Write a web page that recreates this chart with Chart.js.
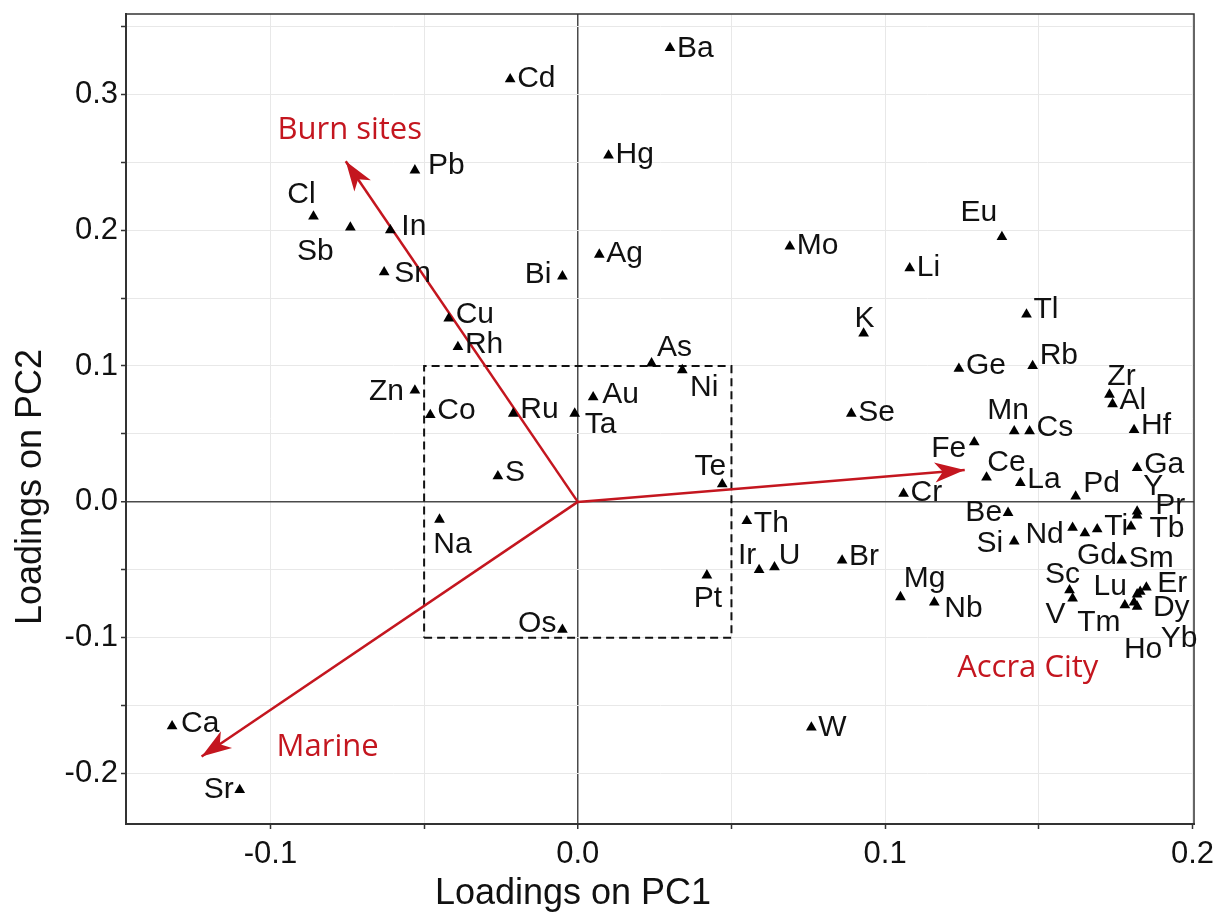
<!DOCTYPE html>
<html>
<head>
<meta charset="utf-8">
<script src="https://cdn.jsdelivr.net/npm/chart.js@4.4.0/dist/chart.umd.min.js"></script>
<style>
  html, body { margin: 0; padding: 0; background: #fff; }
</style>
</head>
<body>
<canvas id="Chart" width="1213" height="914"></canvas>
<script>
// element loadings
const elements = ['Ba','Cd','Hg','Pb','Cl','Sb','In','Sn','Ag','Bi','Mo','Li','Eu','Tl','K','Cu','Rh','Ge','Rb','Zr','Al','Hf','Mn','Cs','Fe','Ce','La','Ga','Pd','Cr','Se','As','Ni','Au','Ta','Ru','Co','Zn','S','Te','Na','Pt','Os','Th','Ir','U','Br','Mg','Nb','W','Ca','Sr','Be','Si','Nd','Gd','Ti','Y','Pr','Tb','Sm','Sc','V','Er','Dy','Lu','Tm','Ho','Yb'];
const pc1 = [0.030,-0.022,0.010,-0.053,-0.086,-0.074,-0.061,-0.063,0.007,-0.005,0.069,0.108,0.138,0.146,0.093,-0.042,-0.039,0.124,0.148,0.173,0.174,0.181,0.142,0.147,0.129,0.133,0.144,0.182,0.162,0.106,0.089,0.024,0.034,0.005,-0.001,-0.021,-0.048,-0.053,-0.026,0.047,-0.045,0.042,-0.005,0.055,0.059,0.064,0.086,0.105,0.116,0.076,-0.132,-0.110,0.140,0.142,0.161,0.165,0.169,0.182,0.182,0.180,0.177,0.160,0.161,0.185,0.183,0.182,0.178,0.181,0.182];
const pc2 = [0.334,0.311,0.255,0.244,0.210,0.202,0.200,0.169,0.182,0.166,0.188,0.172,0.195,0.138,0.124,0.135,0.114,0.098,0.100,0.079,0.072,0.053,0.052,0.052,0.044,0.018,0.014,0.025,0.004,0.006,0.065,0.102,0.097,0.077,0.065,0.065,0.064,0.082,0.019,0.013,-0.013,-0.054,-0.094,-0.014,-0.050,-0.048,-0.043,-0.070,-0.074,-0.166,-0.165,-0.212,-0.008,-0.029,-0.019,-0.023,-0.020,-0.007,-0.010,-0.018,-0.043,-0.065,-0.071,-0.063,-0.066,-0.068,-0.076,-0.074,-0.077];

// source vectors
const arrowNames = ['Burn sites', 'Accra City', 'Marine'];
const arrowPC1 = [-0.0755, 0.1259, -0.1224];
const arrowPC2 = [0.2507, 0.0235, -0.1873];

// dashed box
const boxPC1 = [-0.05, 0.05];
const boxPC2 = [-0.1, 0.1];

const xTickLabels = ['-0.1', '0.0', '0.1', '0.2'];
const yTickLabels = ['-0.2', '-0.1', '0.0', '0.1', '0.2', '0.3'];

// where each text goes (px): ['r'|'l', dy, gap] beside the mark, or [dx, dy] for the text centre
const labelPlace = {
  Ba:['r',-2], Cd:['r',-3], Hg:['r',-3], Pb:['r',-7,13], In:['r',-6,11], Sn:['r',-1,10], Ag:['r',-3], Mo:['r',-3], Li:['r',-3],
  Tl:['r',-7], Cu:['r',-6], Rh:['r',-5], Ge:['r',-5], Rb:['r',-13], Al:['r',-6], Hf:['r',-7], Cs:['r',-6], La:['r',-6],
  Ga:['r',-6], Cr:['r',-3], Se:['r',-3], Au:['r',-5,9], Ru:['r',-6], Co:['r',-7], S:['r',-6], Th:['r',0], Br:['r',-6],
  Nb:['r',4,10], W:['r',-2], Ca:['r',-5,9], Ti:['r',-5], Sm:['r',-4],
  Bi:['l',-4,11], Fe:['l',4], Be:['l',-3,6], Si:['l',0,11], Zn:['l',-1,11], Os:['l',-8,6], Sr:['l',-3,6],
  Cl:[-12,-24], Sb:[-35,22], Eu:[-23,-27], K:[1,-17], Zr:[12,-20], Mn:[-6,-23], Ce:[20,-17], Pd:[26,-15],
  Y:[16,-27], Pr:[33,-12], Tb:[36,0], Nd:[-28,5], Gd:[12,20], Sc:[-7,-18], V:[-17,14], Lu:[-27,-10],
  Tm:[-26,15], Er:[26,-6], Dy:[31,14], Ho:[9,45], Yb:[42,30], Mg:[24,-21], As:[23,-18], Ni:[22,15],
  Ta:[26,9], Te:[-12,-20], Ir:[-12,-17], U:[15,-14], Pt:[1,21], Na:[13,23]
};
const arrowLabelAt = { 'Burn sites': [-0.0742, 0.2752], 'Accra City': [0.1464, -0.1207], 'Marine': [-0.0814, -0.1788] };

const red = '#c4161f';
const ink = '#111';
const sans = "'Liberation Sans', Arial, sans-serif";
Chart.defaults.font.family = sans;

function tickText(list) {
  return function(v) {
    const s = (Math.abs(v) < 1e-9 ? 0 : v).toFixed(1);
    return Math.abs(v * 10 - Math.round(v * 10)) < 1e-6 && list.includes(s) ? s : '';
  };
}

function gridOpts() {
  return {
    color: c => (c.tick && c.tick.value === 0 ? '#4a4a4a' : '#e8e8e8'),
    lineWidth: c => (c.tick && c.tick.value === 0 ? 1.5 : 1),
    tickColor: '#333',
    tickWidth: 1.5,
    tickLength: 5
  };
}

const annotate = {
  id: 'annotate',
  afterDatasetsDraw(chart) {
    const { ctx, scales: { x, y }, chartArea: a } = chart;
    const ox = x.getPixelForValue(0), oy = y.getPixelForValue(0);

    ctx.save();
    // frame
    ctx.strokeStyle = '#333';
    ctx.lineWidth = 1.5;
    ctx.strokeRect(a.left, a.top, a.right - a.left, a.bottom - a.top);

    // arrow heads
    ctx.fillStyle = red;
    arrowNames.forEach((n, i) => {
      const tx = x.getPixelForValue(arrowPC1[i]), ty = y.getPixelForValue(arrowPC2[i]);
      const len = Math.hypot(ox - tx, oy - ty);
      const ux = (ox - tx) / len, uy = (oy - ty) / len;
      const nx = -uy, ny = ux;
      ctx.beginPath();
      ctx.moveTo(tx, ty);
      ctx.lineTo(tx + ux * 30 + nx * 10, ty + uy * 30 + ny * 10);
      ctx.lineTo(tx + ux * 22, ty + uy * 22);
      ctx.lineTo(tx + ux * 30 - nx * 10, ty + uy * 30 - ny * 10);
      ctx.closePath();
      ctx.fill();
    });

    // arrow names
    ctx.font = "31px 'Open Sans', 'Noto Sans', sans-serif";
    ctx.textAlign = 'center';
    ctx.textBaseline = 'alphabetic';
    arrowNames.forEach(n => {
      const p = arrowLabelAt[n];
      ctx.fillText(n, x.getPixelForValue(p[0]), y.getPixelForValue(p[1]) + 11);
    });

    // element names
    const fs = 30;
    ctx.font = fs + 'px ' + sans;
    ctx.fillStyle = ink;
    elements.forEach((e, i) => {
      const px = x.getPixelForValue(pc1[i]), py = y.getPixelForValue(pc2[i]);
      const p = labelPlace[e] || ['r', -5];
      let tx, ty;
      if (typeof p[0] === 'string') {
        const gap = p[2] || (p[0] === 'r' ? 7 : 8);
        ctx.textAlign = p[0] === 'r' ? 'left' : 'right';
        tx = p[0] === 'r' ? px + gap : px - gap;
        ty = py + p[1];
      } else {
        ctx.textAlign = 'center';
        tx = px + p[0];
        ty = py + p[1];
      }
      ctx.fillText(e, tx, ty + fs * 0.358);
    });

    // axis titles
    ctx.font = '36px ' + sans;
    ctx.textAlign = 'center';
    ctx.fillText('Loadings on PC1', 573, 904);
    ctx.translate(41, 487);
    ctx.rotate(-Math.PI / 2);
    ctx.fillText('Loadings on PC2', 0, 0);
    ctx.restore();
  }
};

const points = elements.map((e, i) => ({ x: pc1[i], y: pc2[i] }));
const boxLine = [
  { x: boxPC1[0], y: boxPC2[0] }, { x: boxPC1[1], y: boxPC2[0] },
  { x: boxPC1[1], y: boxPC2[1] }, { x: boxPC1[0], y: boxPC2[1] },
  { x: boxPC1[0], y: boxPC2[0] }
];
const arrowSets = arrowNames.map((n, i) => ({
  label: n,
  data: [{ x: 0, y: 0 }, { x: arrowPC1[i], y: arrowPC2[i] }],
  showLine: true,
  borderColor: red,
  borderWidth: 2.5,
  pointRadius: 0,
  fill: false
}));

new Chart(document.getElementById('Chart'), {
  type: 'scatter',
  data: {
    datasets: [
      {
        label: 'Loadings',
        data: points,
        pointStyle: 'triangle',
        pointRadius: 6.2,
        backgroundColor: '#000',
        borderColor: '#000',
        borderWidth: 0
      },
      ...arrowSets,
      {
        label: 'box',
        data: boxLine,
        showLine: true,
        borderColor: ink,
        borderWidth: 2,
        borderDash: [8, 5],
        pointRadius: 0,
        fill: false,
        tension: 0
      }
    ]
  },
  options: {
    responsive: false,
    animation: false,
    devicePixelRatio: 1,
    layout: { padding: { left: 0, top: 14, right: 19, bottom: 0 } },
    plugins: { legend: { display: false }, tooltip: { enabled: false } },
    scales: {
      x: {
        type: 'linear',
        min: -0.147,
        max: 0.2005,
        grid: gridOpts(),
        border: { display: true, color: '#333', width: 2 },
        ticks: {
          stepSize: 0.05,
          includeBounds: false,
          autoSkip: false,
          maxRotation: 0,
          padding: 7,
          color: ink,
          font: { size: 31 },
          callback: tickText(xTickLabels)
        },
        afterFit(s) { s.height = 90; s.paddingLeft = 0; s.paddingRight = 0; }
      },
      y: {
        type: 'linear',
        min: -0.237,
        max: 0.359,
        grid: gridOpts(),
        border: { display: true, color: '#333', width: 2 },
        ticks: {
          stepSize: 0.05,
          includeBounds: false,
          autoSkip: false,
          padding: 3,
          color: ink,
          font: { size: 31 },
          callback: tickText(yTickLabels)
        },
        afterFit(s) { s.width = 126; s.paddingTop = 0; s.paddingBottom = 0; }
      }
    }
  },
  plugins: [annotate]
});
</script>
</body>
</html>
